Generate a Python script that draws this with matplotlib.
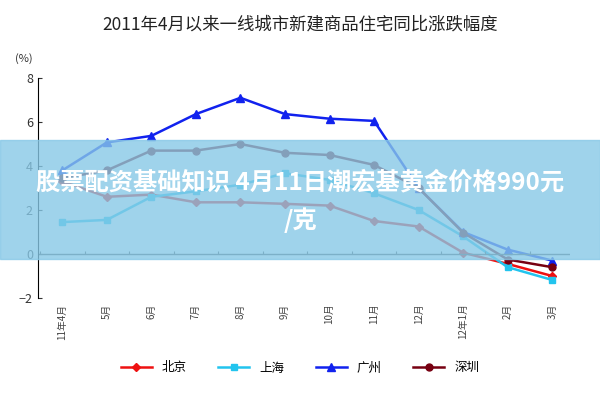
import numpy as np
import matplotlib.pyplot as plt

plt.rcParams['font.family'] = ['Noto Sans CJK SC', 'DejaVu Sans']

months = ["11年4月", "5月", "6月", "7月", "8月", "9月", "10月", "11月", "12月", "12年1月", "2月", "3月"]
beijing = [3.3, 2.6, 2.7, 2.35, 2.35, 2.28, 2.2, 1.5, 1.25, 0.06, -0.45, -1.0]
shanghai = [1.45, 1.55, 2.6, 2.85, 3.15, 3.67, 3.37, 2.76, 2.0, 0.8, -0.6, -1.18]
guangzhou = [3.8, 5.07, 5.37, 6.36, 7.1, 6.36, 6.15, 6.05, 3.0, 1.0, 0.2, -0.3]
shenzhen = [3.45, 3.8, 4.7, 4.7, 5.0, 4.6, 4.5, 4.05, 3.0, 0.97, -0.25, -0.6]

fig = plt.figure(figsize=(6, 4), dpi=100)
ax = fig.add_axes([0.063, 0.255, 0.887, 0.55])
x = np.arange(len(months))

ax.plot(x, beijing, color="#ee1111", marker="D", ms=4, lw=1.8, label="北京")
ax.plot(x, shanghai, color="#22c4ee", marker="s", ms=5, lw=1.8, label="上海")
ax.plot(x, guangzhou, color="#1122ee", marker="^", ms=6, lw=1.8, label="广州")
ax.plot(x, shenzhen, color="#770011", marker="o", ms=5, lw=1.8, label="深圳")

ax.axhline(0, color="#555555", lw=1)
ax.vlines(np.arange(-0.5, len(months)), 0, 0.12, color="#555555", lw=0.8)
ax.set_xlim(-0.55, 11.4)
ax.set_ylim(-2, 8)
ax.set_yticks([-2, 0, 2, 4, 6, 8])
ax.set_xticks(x)
ax.set_xticklabels(months, rotation=90, fontsize=7, color="#444444")
ax.tick_params(axis="x", length=0, pad=4)
ax.tick_params(axis="y", labelsize=9, colors="#333333", direction="in", length=3)
for s in ["top", "right", "bottom"]:
    ax.spines[s].set_visible(False)

fig.text(0.5, 0.925, "2011年4月以来一线城市新建商品住宅同比涨跌幅度", ha="center", fontsize=12.5, color="#222222")
fig.text(0.025, 0.845, "(%)", fontsize=8, color="#333333")
fig.legend(loc="center", bbox_to_anchor=(0.5, 0.08), ncol=4, frameon=False, fontsize=9,
           handlelength=2.5, columnspacing=2.5)

# overlay banner
fig.patches.append(plt.Rectangle((0, 0.352), 1, 0.298, transform=fig.transFigure,
                                 color="#87c8e6", alpha=0.8, zorder=5))
fig.text(0.5, 0.545, "股票配资基础知识 4月11日潮宏基黄金价格990元", ha="center", va="center",
         fontsize=17.5, color="white", weight="bold", zorder=6)
fig.text(0.5, 0.45, "/克", ha="center", va="center", fontsize=17.5, color="white", weight="bold", zorder=6)

fig.savefig("out.png")
